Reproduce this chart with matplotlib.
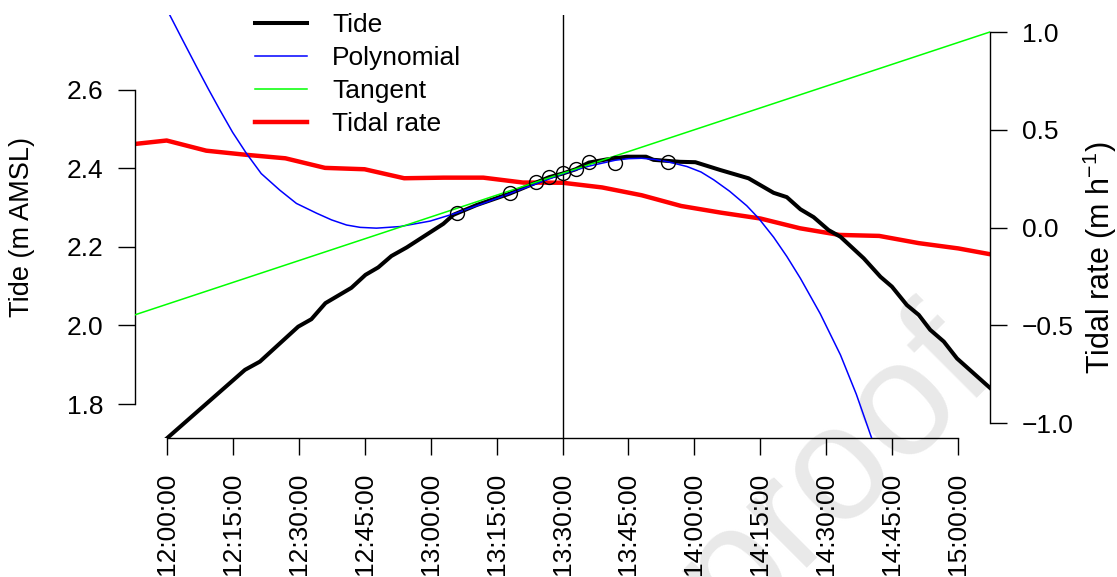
import matplotlib
matplotlib.use("Agg")
import matplotlib.pyplot as plt

# ---------------- data (minutes after 12:00) ----------------
tide_t = [0, 17.8, 21.2, 29.9, 32.9, 36.1, 42.0, 45.2, 48.1, 51.1, 54.6, 62.9, 65.2,
          70.5, 78, 84, 87, 90, 93, 96, 100, 104.6, 109, 110.7, 116.7, 120.2, 125.9,
          132.3, 138.0, 141.0, 144.1, 147.1, 150.5, 153.2, 158.5, 162.3, 164.9, 168.3,
          171.0, 173.6, 176.7, 179.7, 187.3, 189]
tide_v = [1.712, 1.887, 1.908, 1.997, 2.016, 2.057, 2.096, 2.129, 2.148, 2.177, 2.199, 2.259, 2.282,
          2.307, 2.336, 2.364, 2.378, 2.387, 2.398, 2.415, 2.423, 2.430, 2.430, 2.422, 2.417, 2.416, 2.396,
          2.375, 2.338, 2.327, 2.296, 2.276, 2.243, 2.226, 2.171, 2.124, 2.099, 2.052,
          2.027, 1.989, 1.959, 1.916, 1.840, 1.823]

circ_t = [66, 78, 84, 87, 90, 93, 96, 102, 114]
circ_v = [2.287, 2.337, 2.366, 2.379, 2.388, 2.399, 2.417, 2.415, 2.417]

poly_t = [-2, 0.7, 3.5, 6.8, 9.5, 12.1, 15.0, 18.1, 21.5, 25.7, 29.5, 34.1, 37.5, 40.9,
          44.0, 47.7, 53.0, 59.9, 66, 72, 78, 84, 90, 96, 102, 105, 108, 111, 114, 118.3,
          121.5, 124.4, 128.0, 131.9, 134.6, 138.0, 141.0, 144.1, 148.6, 153.2, 156.8,
          160.3, 162]
poly_v = [2.85, 2.791, 2.730, 2.659, 2.602, 2.549, 2.492, 2.439, 2.387, 2.345, 2.311, 2.286,
          2.269, 2.256, 2.250, 2.248, 2.252, 2.266, 2.287, 2.311, 2.336, 2.361, 2.386, 2.406,
          2.421, 2.425, 2.426, 2.423, 2.417, 2.405, 2.391, 2.371, 2.342, 2.305, 2.273, 2.225,
          2.176, 2.120, 2.030, 1.925, 1.825, 1.713, 1.665]

rate_t = [-9, 0, 9, 18, 27, 36, 45, 54, 63, 72, 81, 90, 99, 108, 117, 126, 135, 144, 153,
          162, 171, 180, 189]
rate_v = [0.423, 0.445, 0.393, 0.372, 0.354, 0.305, 0.298, 0.252, 0.255, 0.255, 0.230, 0.229,
          0.205, 0.165, 0.110, 0.076, 0.046, -0.004, -0.038, -0.043, -0.080, -0.107, -0.144]

tangent_t = 90          # 13:30
tangent_v = 2.3875
tangent_slope = 0.2224 / 60.0   # m per minute

tick_t = [0, 15, 30, 45, 60, 75, 90, 105, 120, 135, 150, 165, 180]
tick_lab = ["12:00:00", "12:15:00", "12:30:00", "12:45:00", "13:00:00", "13:15:00",
            "13:30:00", "13:45:00", "14:00:00", "14:15:00", "14:30:00", "14:45:00",
            "15:00:00"]
left_ticks = [1.8, 2.0, 2.2, 2.4, 2.6]
right_ticks = [-1.0, -0.5, 0.0, 0.5, 1.0]

# ---------------- style ----------------
plt.rcParams['font.family'] = ['Liberation Sans', 'DejaVu Sans']
plt.rcParams['mathtext.fontset'] = 'custom'
plt.rcParams['mathtext.rm'] = 'Liberation Sans'
plt.rcParams['mathtext.it'] = 'Liberation Sans'
FS = 19

W, H = 1117, 577
fig = plt.figure(figsize=(W / 100, H / 100), dpi=100)
ax = fig.add_axes([135 / W, 1 - 438 / H, (990 - 135) / W, (438 - 15) / H])
ax2 = ax.twinx()
ax.set_zorder(ax2.get_zorder() + 1)
ax.patch.set_visible(False)

# watermark
fig.text(835 / W, 1 - 470 / H, "proof", rotation=45, fontsize=118, color="#e9e9e9",
         ha="center", va="center", zorder=0)

ax.set_xlim(-7.2, 187.2)
ax.set_ylim(1.7134, 2.791)
ax2.set_ylim(-1.0767, 1.087)

# lines
ax.plot(tide_t, tide_v, color="black", lw=2.9, label="Tide", solid_joinstyle="round", zorder=3)
ax.plot(poly_t, poly_v, color="#0000FF", lw=1.1, label="Polynomial", zorder=4,
        solid_joinstyle="round")
ax.axline((tangent_t, tangent_v), slope=tangent_slope, color="#00FF00", lw=1.1,
          label="Tangent", zorder=4)
ax.plot(circ_t, circ_v, linestyle="none", marker="o", ms=10, mfc="none", mec="black",
        mew=1.0, zorder=5)
ax.axvline(90, color="black", lw=1.0, zorder=2)
ax2.plot(rate_t, rate_v, color="#FF0000", lw=3.2, label="Tidal rate", solid_joinstyle="round")
rate_proxy, = ax.plot([], [], color="#FF0000", lw=3.2, label="Tidal rate")

# axes styling (R base style)
for s in ["top", "right"]:
    ax.spines[s].set_visible(False)
for s in ["top", "left", "bottom"]:
    ax2.spines[s].set_visible(False)
ax.spines["left"].set_bounds(1.8, 2.6)
ax.spines["bottom"].set_bounds(0, 180)
ax2.spines["right"].set_bounds(-1.0, 1.0)
for sp in [ax.spines["left"], ax.spines["bottom"], ax2.spines["right"]]:
    sp.set_linewidth(1.0)

ax.set_xticks(tick_t)
ax.set_xticklabels(tick_lab, rotation=90, fontsize=FS)
ax.set_yticks(left_ticks)
ax.set_yticklabels([f"{v:.1f}" for v in left_ticks], fontsize=FS)
ax2.set_yticks(right_ticks)
ax2.set_yticklabels([f"{v:.1f}".replace("-", "\u2212") for v in right_ticks], fontsize=FS)
ax.tick_params(axis="both", direction="out", length=12, width=1.0, pad=11)
ax.tick_params(axis="x", pad=13)
ax2.tick_params(axis="y", direction="out", length=12, width=1.0, pad=11)

fig.text(22 / W, 1 - 227 / H, "Tide (m AMSL)", rotation=90, ha="center", va="center",
         fontsize=19.5)
fig.text(1100 / W, 1 - 258 / H, r"Tidal rate (m h$^{-1}$)", rotation=90, ha="center",
         va="center", fontsize=22)

handles, labels = ax.get_legend_handles_labels()
leg = ax.legend(handles, labels, loc="upper left", bbox_to_anchor=(255 / W, 1 - 13 / H),
                bbox_transform=fig.transFigure, frameon=False, fontsize=FS,
                handlelength=1.97, handletextpad=0.95, labelspacing=0.34, borderpad=0,
                borderaxespad=0)

fig.savefig("out.png", dpi=100)
